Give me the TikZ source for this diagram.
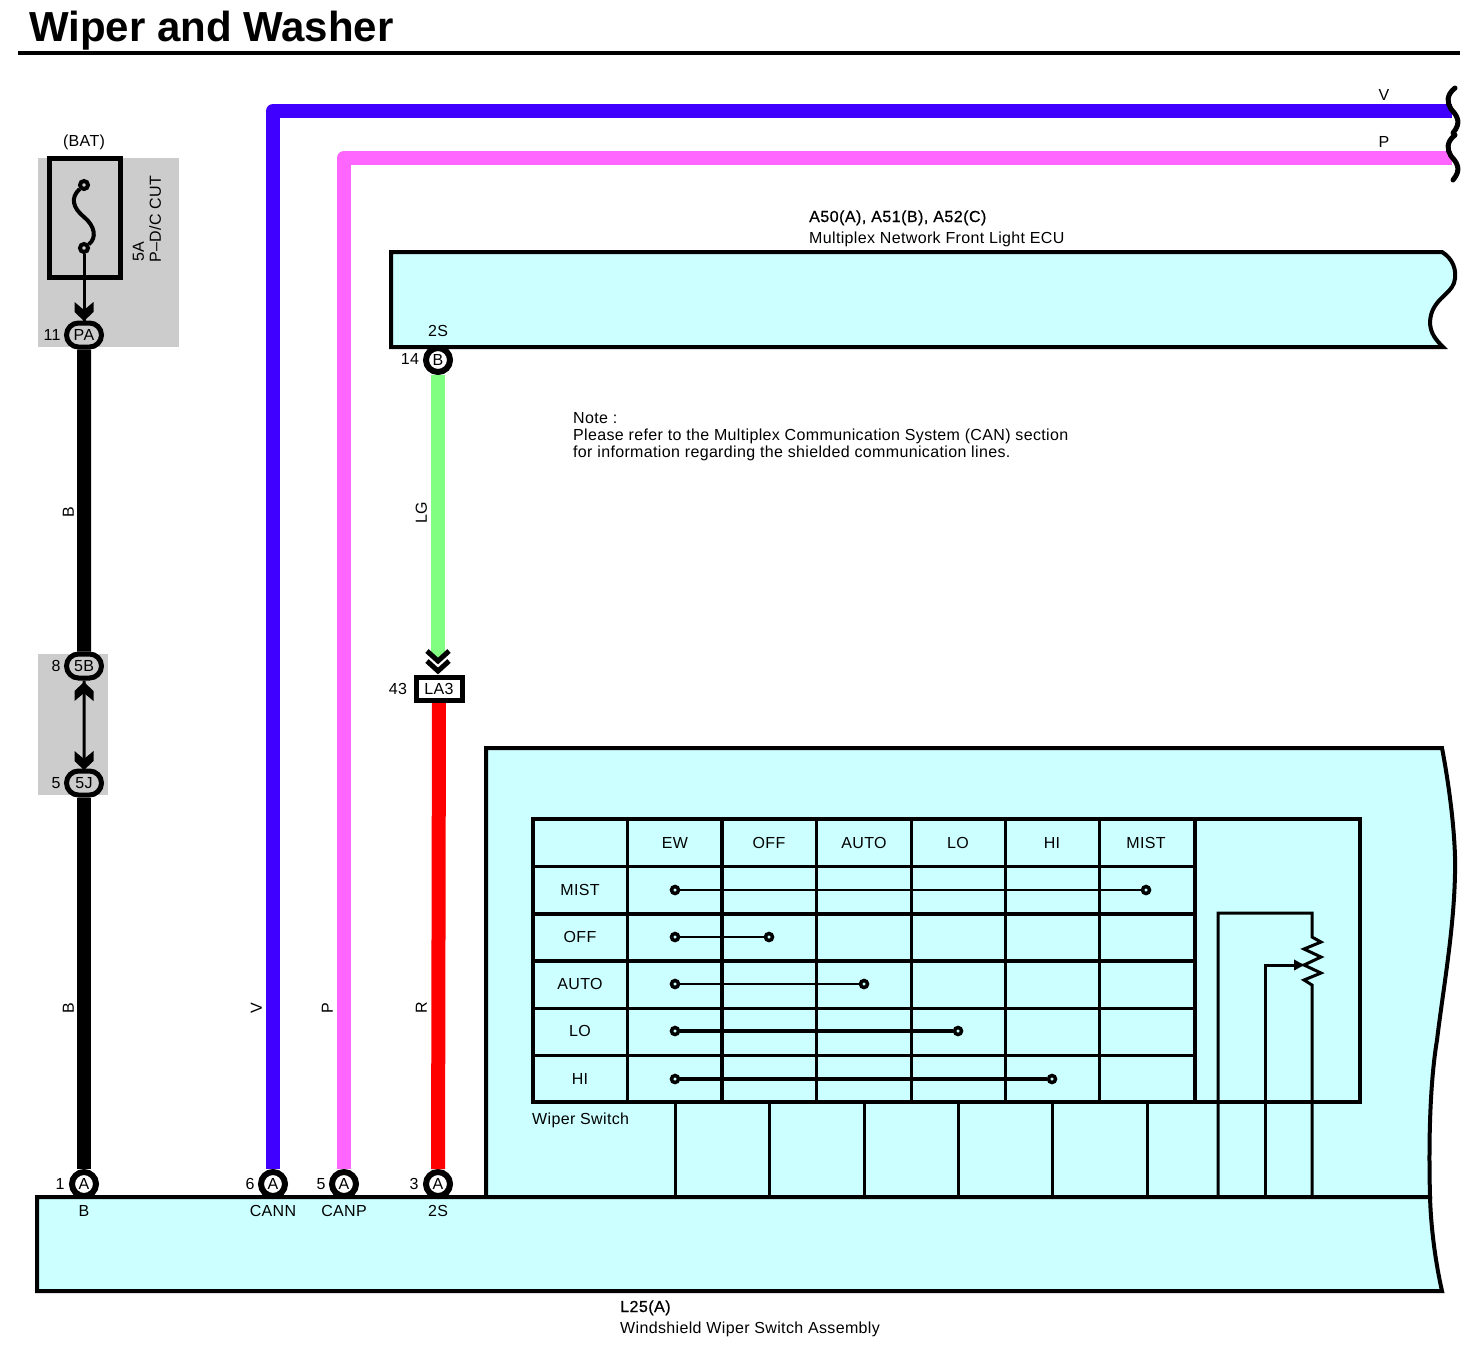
\documentclass[tikz,border=0pt]{standalone}
\usepackage{fontspec}
\setmainfont[LetterSpace=2.2]{Liberation Sans}
\newfontfamily\titlefont{Liberation Sans}
\newfontfamily\headfont[LetterSpace=3,FakeBold=0.7]{Liberation Sans}
\usetikzlibrary{arrows.meta}
\usetikzlibrary{shapes.misc}

\definecolor{ecucyan}{HTML}{CCFFFF}
\definecolor{relaygrey}{HTML}{CCCCCC}
\definecolor{wireV}{HTML}{4000FF}
\definecolor{wireP}{HTML}{FF66FF}
\definecolor{wireLG}{HTML}{80FF80}
\definecolor{wireR}{HTML}{FF0000}

\begin{document}
\begin{tikzpicture}[
        x=1pt,y=-1pt,
        every node/.style={inner sep=0pt,font=\fontsize{16}{16}\selectfont,text height=11.5pt,text depth=0pt},
        lbl/.style={anchor=base west,text height=,text depth=},
        pinround/.style={draw,circle,fill=white,line width=6pt,minimum size=24pt},
        pinoval/.style={draw,rounded rectangle,fill=relaygrey,line width=5pt,minimum width=35pt,minimum height=24pt},
        dot/.style={draw,circle,fill=ecucyan,line width=3.5pt,minimum size=7pt,text height=,text depth=},
        fusedot/.style={draw,circle,fill=relaygrey,line width=4pt,minimum size=8pt,text height=,text depth=},
        wire/.style={line width=14pt,line join=round},
        box/.style={draw,fill=ecucyan,line width=4pt,line join=miter},
        chevfull/.pic={\fill (-9.5,-19) -- (0,-11) -- (9.5,-19) -- (9.5,-9) -- (0,0) -- (-9.5,-9) -- cycle;},
        chevopen/.pic={\draw[line width=5pt,line join=miter] (-11,-10) -- (0,0) -- (11,-10);}
    ]
        \useasboundingbox (0,0) rectangle (1479,1350);

        % title
        \node[anchor=base west,font=\titlefont\bfseries\fontsize{42}{42}\selectfont,text height=,text depth=] (title) at (29,41) {Wiper and Washer};
        \draw[line width=4pt] (18,53) -- (1460,53);

        % relay boxes
        \fill[relaygrey] (38,158) rectangle (179,347);
        \fill[relaygrey] (38,654) rectangle (108,795);

        % ecu and switch outlines
        \path[box] (391,252) -- (1442,252) .. controls (1452,258) and (1458,270) .. (1454,283)
            .. controls (1450,295) and (1431,300) .. (1430,322)
            .. controls (1430,333) and (1436,340) .. (1443,347) -- (391,347) -- cycle;
        \path[box] (486,1197) -- (486,748) -- (1442,748) .. controls (1450,790) and (1456,840) .. (1455,873)
            .. controls (1454,930) and (1443,990) .. (1437,1040)
            .. controls (1432,1070) and (1428,1120) .. (1430,1197) -- cycle;
        \path[box] (37,1197) -- (1430,1197) .. controls (1431,1230) and (1436,1265) .. (1442,1291) -- (37,1291) -- cycle;

        % pins
        \node[pinoval] (pa) at (84,335) {PA};
        \node[pinoval] (pb) at (84,666) {5B};
        \node[pinoval] (pj) at (84,783) {5J};
        \node[pinround] (a1) at (84,1184) {A};
        \node[pinround] (a6) at (273,1184) {A};
        \node[pinround] (a5) at (344,1184) {A};
        \node[pinround] (a3) at (438,1184) {A};
        \node[pinround] (b14) at (438,360) {B};
        \node[draw,fill=white,line width=5pt,minimum width=46pt,minimum height=23pt] (la3) at (439,689) {LA3};
        \coordinate (lgend) at (438,657);
        \coordinate (vend) at (1452,111);
        \coordinate (pend) at (1452,158);

        % wires
        \draw[wire] (pa) -- (pb);
        \draw[wire] (pj) -- (a1);
        \draw[wire,wireV] (a6) |- (vend);
        \draw[wire,wireP] (a5) |- (pend);
        \draw[wire,wireLG] (b14) -- (lgend);
        \draw[wire,wireR] (la3) -- (a3);
        \draw[line width=3pt] (pb) -- (pj);
        \pic at (438,661) {chevopen};
        \pic at (438,671) {chevopen};
        \pic[rotate=180] at (84,682) {chevfull};
        \pic at (84,770) {chevfull};

        % cut marks
        \foreach \yy in {0,47} {
            \draw[line width=5pt,line cap=round] (1455,88+\yy) .. controls (1446,95+\yy) and (1447,103+\yy) .. (1451,109+\yy)
                .. controls (1457,116+\yy) and (1462,122+\yy) .. (1453,133+\yy);
        }

        % fuse
        \draw[line width=5pt] (49,158) rectangle (120,277);
        \node[fusedot] (fa) at (84,185) {};
        \node[fusedot] (fb) at (84,248) {};
        \draw[line width=4pt] (fa) .. controls (70,198) and (73,208) .. (84,217) .. controls (95,226) and (97,238) .. (fb);
        \draw[line width=3pt] (fb) -- (pa);
        \pic at (84,321) {chevfull};

        % switch table
        \draw[line width=4pt] (533,819) rectangle (1360,1102);
        \draw[line width=4pt] (1195,819) -- (1195,1102);
        \foreach \x/\w in {627/3,722/3.5,816/3,911/3,1005/3,1099/3} {
            \draw[line width=\w pt] (\x,819) -- (\x,1102);
        }
        \foreach \y/\w in {866/3,914/4,961/4,1008/3,1055/3} {
            \draw[line width=\w pt] (533,\y) -- (1195,\y);
        }
        \foreach \x/\name in {675/EW,769/OFF,864/AUTO,958/LO,1052/HI,1146/MIST} {
            \node (col\name) at (\x,843) {\name};
        }
        \foreach \y/\name/\xe/\w in {890/MIST/1146/2.5,937/OFF/769/2.5,984/AUTO/864/2.5,1031/LO/958/3.5,1079/HI/1052/3.5} {
            \node (row\name) at (580,\y) {\name};
            \node[dot] (s\name) at (675,\y) {};
            \node[dot] (e\name) at (\xe,\y) {};
            \draw[line width=\w pt] (s\name) -- (e\name);
        }
        \foreach \x [count=\i] in {675,769,864,958,1052,1147} {
            \coordinate (tt\i) at (\x,1102);
            \coordinate (tb\i) at (\x,1197);
            \draw[line width=3pt] (tt\i) -- (tb\i);
        }

        % wiper resistor
        \coordinate (r1) at (1218,1197);
        \coordinate (r2) at (1312,1197);
        \coordinate (r3) at (1265,1197);
        \coordinate (rtip) at (1306,965);
        \draw[line width=3pt,line join=miter] (r1) -- (1218,913) -- (1312,913) -- (1312,937) -- (1321,942) -- (1304,949) -- (1321,957)
            -- (1304,965) -- (1321,973) -- (1304,980) -- (1312,985) -- (r2);
        \draw[line width=3pt,-{Latex[length=12pt,width=12pt]}] (r3) |- (rtip);

        % texts
        \node (bat) at (84,141) {(BAT)};
        \node[rotate=90] (amps) at (138,252) {5A};
        \node[rotate=90,anchor=west] (fusename) at (155,263) {P–D/C CUT};
        \node (n11) at (52,335) {11};
        \node (n8) at (56,666) {8};
        \node (n5) at (56,783) {5};
        \node (n1) at (60,1184) {1};
        \node (n6) at (250,1184) {6};
        \node (n5b) at (321,1184) {5};
        \node (n3) at (414,1184) {3};
        \node (n14) at (410,359) {14};
        \node (n43) at (398,689) {43};
        \node (n2s) at (438,331) {2S};
        \node[rotate=90] (cb1) at (68,512) {B};
        \node[rotate=90] (cb2) at (68,1008) {B};
        \node[rotate=90] (cv) at (256,1008) {V};
        \node[rotate=90] (cp) at (327,1008) {P};
        \node[rotate=90] (cr) at (421,1008) {R};
        \node[rotate=90] (clg) at (421,513) {LG};
        \node (tv) at (1384,95) {V};
        \node (tp) at (1384,142) {P};
        \node (tb) at (84,1211) {B};
        \node (tcann) at (273,1211) {CANN};
        \node (tcanp) at (344,1211) {CANP};
        \node (t2s) at (438,1211) {2S};
        \node[lbl] (ecuid) at (809,222) {\headfont A50(A), A51(B), A52(C)};
        \node[lbl] (ecuname) at (809,243) {Multiplex Network Front Light ECU};
        \node[lbl] (note1) at (573,423) {Note :};
        \node[lbl] (note2) at (573,440) {Please refer to the Multiplex Communication System (CAN) section};
        \node[lbl] (note3) at (573,457) {for information regarding the shielded communication lines.};
        \node[lbl] (swname) at (532,1124) {Wiper Switch};
        \node[lbl] (swid) at (620,1312) {\headfont L25(A)};
        \node[lbl] (swlong) at (620,1333) {Windshield Wiper Switch Assembly};
    \end{tikzpicture}
\end{document}
